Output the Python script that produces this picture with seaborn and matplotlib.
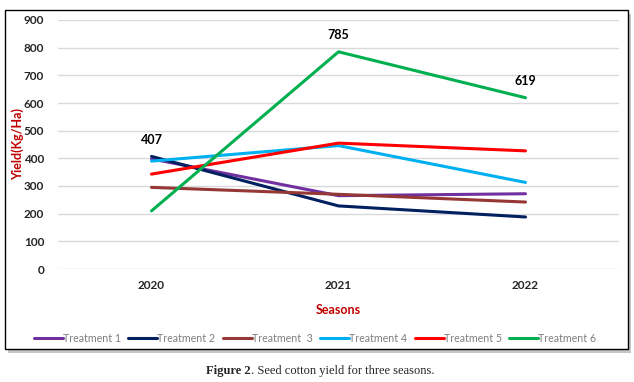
import matplotlib
matplotlib.use("Agg")
import matplotlib.pyplot as plt
import seaborn as sns
import pandas as pd
from matplotlib.patches import Rectangle

seasons = ["2020", "2021", "2022"]
treatments = ["Treatment 1", "Treatment 2", "Treatment  3", "Treatment 4", "Treatment 5", "Treatment 6"]
t1 = [398, 265, 272]
t2 = [407, 228, 188]
t3 = [295, 270, 242]
t4 = [390, 446, 313]
t5 = [343, 455, 427]
t6 = [210, 785, 619]
colors = ["#7030A0", "#002060", "#953735", "#00B0F0", "#FF0000", "#00B050"]
labels_pts = [(0, 407), (1, 785), (2, 619)]

rows = []
for name, vals in zip(treatments, [t1, t2, t3, t4, t5, t6]):
    for s, v in zip(seasons, vals):
        rows.append({"Season": s, "Yield": v, "Treatment": name})
df = pd.DataFrame(rows)

sns.set_style("white")
plt.rcParams['font.family'] = ['Lato', 'DejaVu Sans']
fig = plt.figure(figsize=(6.34, 3.82), dpi=100)

# outer frame with shadow
fig.patches.append(Rectangle((8/634, 1-353/382), 623/634, 339/382, transform=fig.transFigure,
                             facecolor="#a0a0a0", edgecolor="none", zorder=0, alpha=0.6))
fig.patches.append(Rectangle((5/634, 1-349/382), 623/634, 339/382, transform=fig.transFigure,
                             facecolor="white", edgecolor="black", linewidth=1.0, zorder=1))

ax = fig.add_axes([58/634, 1-269/382, (619-58)/634, (269-20)/382])
ax.set_zorder(2)
ax.patch.set_alpha(0)
sns.lineplot(data=df, x="Season", y="Yield", hue="Treatment", palette=colors,
             linewidth=2.2, ax=ax, sort=False)
ax.set_xlim(-0.5, 2.5)
ax.set_ylim(0, 900)
ax.set_yticks(range(0, 901, 100))
ax.grid(axis="y", color="#d9d9d9", linewidth=1)
ax.set_axisbelow(True)
for sp in ax.spines.values():
    sp.set_visible(False)
ax.tick_params(axis="both", length=0, labelsize=8.5)
for lab in ax.get_xticklabels() + ax.get_yticklabels():
    lab.set_fontweight("bold")
ax.tick_params(axis="x", pad=8)
ax.tick_params(axis="y", pad=10)
ax.set_xlabel("Seasons", color="#C00000", fontweight="bold", fontsize=9)
ax.xaxis.set_label_coords(0.5, -0.14)
ax.set_ylabel("Yield(Kg/Ha)", color="#C00000", fontweight="bold", fontsize=9)
ax.yaxis.set_label_coords(-0.06, 0.5)

for xi, v in labels_pts:
    ax.annotate(str(v), (xi, v), xytext=(0, 12), textcoords="offset points",
                ha="center", va="center", fontsize=9, fontweight="bold", color="#000000")

handles, labs = ax.get_legend_handles_labels()
ax.legend(handles, labs, loc="center", bbox_to_anchor=((315-58)/561, -(338-269)/249), ncol=6,
          frameon=False, fontsize=7.7, handlelength=2.7, handletextpad=0.0, columnspacing=0.7,
          labelcolor="#7f7f7f")

fig.text(251/634, 1-371/382, "Figure 2", ha="right", va="center", fontsize=9,
         family="Liberation Serif", fontweight="bold")
fig.text(251/634, 1-371/382, ". Seed cotton yield for three seasons.", ha="left", va="center",
         fontsize=9, family="Liberation Serif")
fig.savefig("out.png", dpi=100)
